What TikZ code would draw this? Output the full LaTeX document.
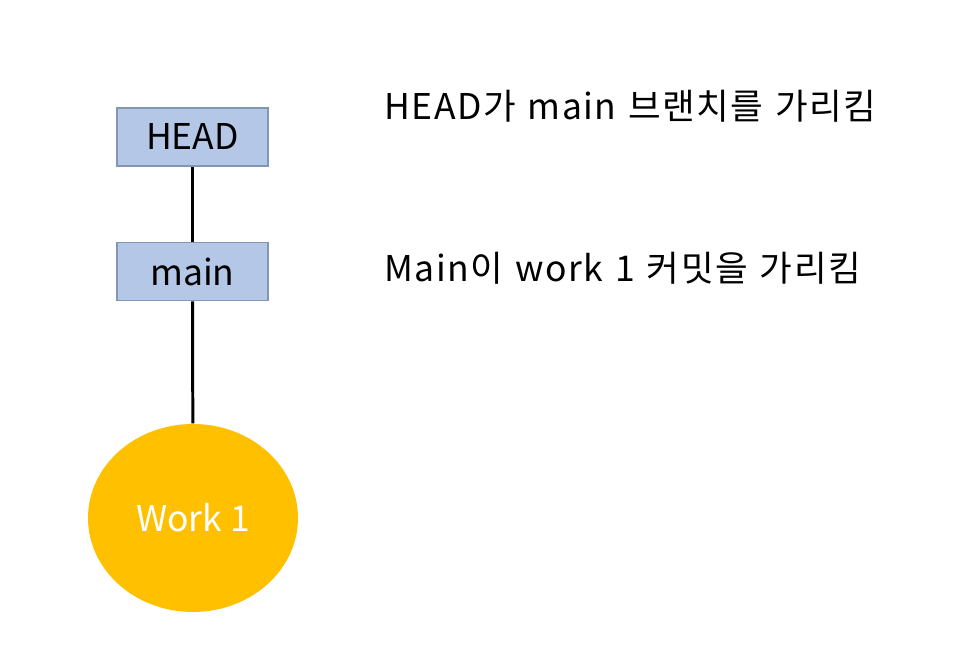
\documentclass[tikz,border=0pt]{standalone}
\usepackage{fontspec}
\setmainfont{Noto Sans CJK KR}
\newfontfamily\notefont[LetterSpace=4, WordSpace=1.3]{Noto Sans CJK KR}
\usetikzlibrary{shapes.geometric}

\definecolor{boxblue}{HTML}{B4C7E7}
\definecolor{boxline}{HTML}{8497B0}
\definecolor{commitgold}{HTML}{FFC000}

\tikzset{
  refbox/.style={draw=boxline, line width=0.45pt, fill=boxblue, minimum width=1.51cm, minimum height=0.58cm, inner sep=0pt, font=\fontsize{10.1}{12}\selectfont},
  commit/.style={ellipse, fill=commitgold, minimum width=2.10cm, minimum height=1.88cm, inner sep=0pt, text=white, font=\fontsize{10.1}{12}\selectfont},
  note/.style={anchor=base west, inner sep=0pt, font=\notefont\fontsize{10.1}{12}\selectfont},
  link/.style={line width=0.85pt, black}
}

\begin{document}
\begin{tikzpicture}

  \useasboundingbox (0, 0) rectangle (9.72, -6.71);

  % Pointer chain
  \node (head) at (1.925, -1.37) [refbox] {HEAD};
  \node (main) at (1.925, -2.715) [refbox] {main};
  \node (work) at (1.93, -5.18) [commit] {Work 1};

  \draw[link] (head) -- (main);
  \draw[link] (main) -- (work);

  % Explanations
  \node (headnote) at (3.84, -1.20) [note] {HEAD가 main 브랜치를 가리킴};
  \node (mainnote) at (3.84, -2.82) [note] {Main이 work 1 커밋을 가리킴};

\end{tikzpicture}
\end{document}
